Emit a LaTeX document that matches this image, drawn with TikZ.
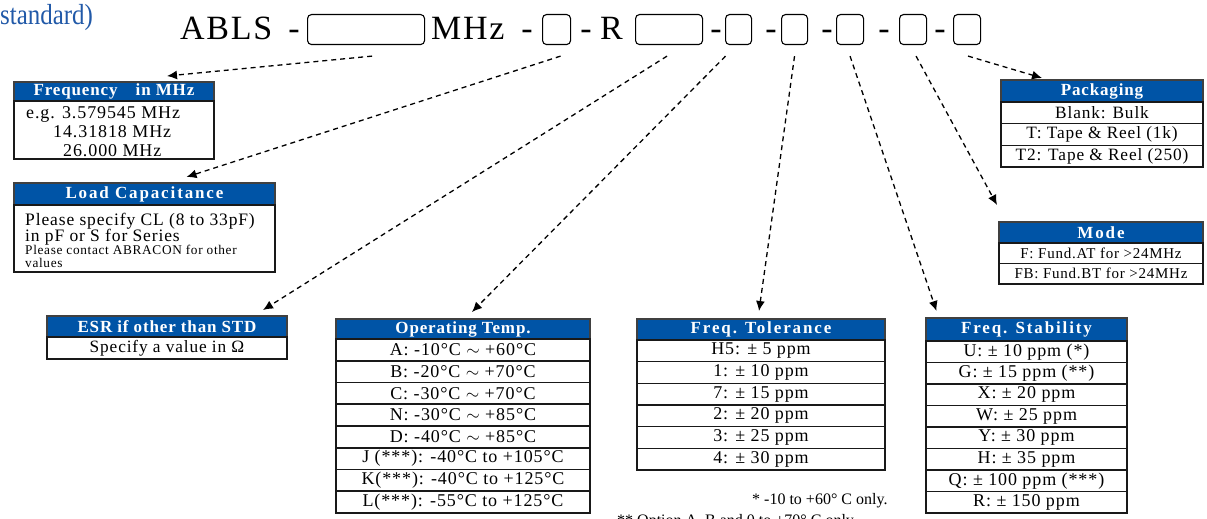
\documentclass[tikz,border=0pt]{standalone}
\usepackage{fontspec}
\setmainfont{Liberation Serif}
\newfontfamily\trackfont[LetterSpace=5]{Liberation Serif}
\newfontfamily\widefont[LetterSpace=11]{Liberation Serif}
\usetikzlibrary{arrows.meta}
\usetikzlibrary{positioning}
\definecolor{hdrblue}{RGB}{0,84,166}
\definecolor{stdblue}{RGB}{33,89,168}

\tikzset{
	slot/.style={draw, rounded corners=4pt, line width=1.1pt, minimum height=30pt, inner sep=0pt, anchor=north west},
	ptxt/.style={font=\trackfont\fontsize{34}{36}\selectfont, inner sep=0pt},
	hdr/.style={draw=black!75, fill=hdrblue, text=white, font=\trackfont\bfseries\fontsize{17}{18}\selectfont, line width=1.4pt, inner sep=0pt, outer sep=0pt, anchor=north},
	hdrwide/.style={hdr, font=\widefont\bfseries\fontsize{17}{18}\selectfont},
	cell/.style={draw=black!90, line width=1.6pt, inner sep=0pt, outer sep=0pt, font=\trackfont\fontsize{18}{19}\selectfont},
	txt/.style={inner sep=0pt, font=\trackfont\fontsize{17.5}{19}\selectfont},
	fnote/.style={inner sep=0pt, font=\fontsize{16}{18}\selectfont},
	conn/.style={-{Latex[length=10pt, width=9pt]}, dash pattern=on 5pt off 4pt, line width=1.3pt},
}

\begin{document}
\begin{tikzpicture}[x=1pt,y=-1pt]
	\useasboundingbox (0,0) rectangle (1207,519);
	% part number line
	\node[font=\fontsize{29}{30}\selectfont, text=stdblue, anchor=base west, inner sep=0pt, xscale=0.86, transform shape] (std) at (0,25) {standard)};
	\node[ptxt, anchor=base west] (abls) at (180,39.5) {ABLS};
	\node[ptxt, anchor=base] (d0) at (294,39.5) {-};
	\node[ptxt, anchor=base west] (mhz) at (431,39.5) {MHz};
	\node[ptxt, anchor=base] (d1) at (527,39.5) {-};
	\node[ptxt, anchor=base] (d2) at (586,39.5) {-};
	\node[ptxt, anchor=base west] (rr) at (600,39.5) {R};
	\node[ptxt, anchor=base] (d3) at (716,39.5) {-};
	\node[ptxt, anchor=base] (d4) at (771,39.5) {-};
	\node[ptxt, anchor=base] (d5) at (827,39.5) {-};
	\node[ptxt, anchor=base] (d6) at (884,39.5) {-};
	\node[ptxt, anchor=base] (d7) at (940,39.5) {-};
	\node[slot, minimum width=117pt] (b0) at (307,14) {};
	\node[slot, minimum width=28pt] (b1) at (542,14) {};
	\node[slot, minimum width=67pt] (b2) at (635,14) {};
	\node[slot, minimum width=26pt] (b3) at (725,14) {};
	\node[slot, minimum width=26pt] (b4) at (781,14) {};
	\node[slot, minimum width=27pt] (b5) at (836,14) {};
	\node[slot, minimum width=27pt] (b6) at (899,14) {};
	\node[slot, minimum width=27pt] (b7) at (953,14) {};

	% frequency
	\node[hdr, minimum width=200pt, minimum height=19pt] (frq0) at (114,82) {Frequency\hspace{13pt} in MHz};
	\node[cell, minimum width=200pt, minimum height=58pt, below=0pt of frq0] (frq1) {};
	\node[txt, anchor=base west, font=\trackfont\fontsize{18}{19}\selectfont] (frqa) at (26,118) {e.g. 3.579545 MHz};
	\node[txt, anchor=base west, font=\trackfont\fontsize{18}{19}\selectfont] (frqb) at (53,137) {14.31818 MHz};
	\node[txt, anchor=base west, font=\trackfont\fontsize{18}{19}\selectfont] (frqc) at (63,156) {26.000 MHz};

	% load capacitance
	\node[hdrwide, minimum width=261pt, minimum height=22pt] (lc0) at (144.5,183) {Load Capacitance};
	\node[cell, minimum width=261pt, minimum height=67pt, below=0pt of lc0] (lc1) {};
	\node[txt, anchor=base west] (lca) at (25,225) {Please specify CL (8 to 33pF)};
	\node[txt, anchor=base west] (lcb) at (25,241) {in pF or S for Series};
	\node[txt, anchor=base west, font=\trackfont\fontsize{13.3}{14}\selectfont] (lcc) at (25,254) {Please contact ABRACON for other};
	\node[txt, anchor=base west, font=\trackfont\fontsize{13.3}{14}\selectfont] (lcd) at (25,267) {values};

	% esr
	\node[hdr, minimum width=240pt, minimum height=21pt] (esr0) at (167,316) {ESR if other than STD};
	\node[cell, minimum width=240pt, minimum height=22pt, below=0pt of esr0, font=\trackfont\fontsize{17.3}{19}\selectfont] (esr1) {Specify a value in Ω};

	% operating temp
	\node[hdr, minimum width=254pt, minimum height=20pt] (ot0) at (463,319) {Operating Temp.};
	\foreach \t [count=\i] in {A: -10°C $\sim$ +60°C, B: -20°C $\sim$ +70°C, C: -30°C $\sim$ +70°C, N: -30°C $\sim$ +85°C, D: -40°C $\sim$ +85°C, J (***): -40°C to +105°C, K(***): -40°C to +125°C, L(***): -55°C to +125°C}{
		\pgfmathtruncatemacro\j{\i-1}
		\node[cell, minimum width=254pt, minimum height=21.75pt, below=0pt of ot\j] (ot\i) {\t};
	}

	% tolerance
	\node[hdrwide, minimum width=248pt, minimum height=21pt] (tol0) at (761,319) {Freq. Tolerance};
	\foreach \t [count=\i] in {H5: ± 5 ppm, 1: ± 10 ppm, 7: ± 15 ppm, 2: ± 20 ppm, 3: ± 25 ppm, 4: ± 30 ppm}{
		\pgfmathtruncatemacro\j{\i-1}
		\node[cell, minimum width=248pt, minimum height=21.67pt, below=0pt of tol\j] (tol\i) {\t};
	}

	% stability
	\node[hdrwide, minimum width=201pt, minimum height=23pt] (stb0) at (1026.5,318) {Freq. Stability};
	\foreach \t [count=\i] in {U: ± 10 ppm (*), G: ± 15 ppm (**), X: ± 20 ppm, W: ± 25 ppm, Y: ± 30 ppm, H: ± 35 ppm, Q: ± 100 ppm (***), R: ± 150 ppm}{
		\pgfmathtruncatemacro\j{\i-1}
		\node[cell, minimum width=201pt, minimum height=21.5pt, below=0pt of stb\j] (stb\i) {\t};
	}

	% packaging
	\node[hdr, minimum width=202pt, minimum height=22pt] (pk0) at (1102,80) {Packaging};
	\foreach \t [count=\i] in {Blank: Bulk, T: Tape \& Reel (1k), T2: Tape \& Reel (250)}{
		\pgfmathtruncatemacro\j{\i-1}
		\node[cell, minimum width=202pt, minimum height=21.67pt, below=0pt of pk\j, font=\trackfont\fontsize{17.3}{19}\selectfont] (pk\i) {\t};
	}

	% mode
	\node[hdrwide, minimum width=204pt, minimum height=21pt] (md0) at (1101,222) {Mode};
	\foreach \t [count=\i] in {F: Fund.AT for >24MHz, FB: Fund.BT for >24MHz}{
		\pgfmathtruncatemacro\j{\i-1}
		\node[cell, minimum width=204pt, minimum height=20.5pt, below=0pt of md\j, font=\trackfont\fontsize{15}{16}\selectfont] (md\i) {\t};
	}

	% notes
	\node[fnote, anchor=base west] (fn1) at (752,504) {* -10 to +60° C only.};
	\node[fnote, anchor=base west] (fn2) at (617,525) {** Option A, B and 0 to +70° C only.};

	% arrows
	\draw[conn] ([xshift=6pt,yshift=-11pt]b0.south) -- ([xshift=53pt,yshift=6pt]frq0.north);
	\draw[conn] ([xshift=4pt,yshift=-11pt]b1.south) -- ([xshift=42pt,yshift=6pt]lc0.north);
	\draw[conn] ([xshift=-2pt,yshift=-11pt]b2.south) -- ([xshift=96pt,yshift=6pt]esr0.north);
	\draw[conn] ([xshift=-13pt,yshift=-11pt]b3.south) -- ([xshift=9pt,yshift=7pt]ot0.north);
	\draw[conn] ([yshift=-11pt]b4.south) -- ([xshift=-2pt,yshift=8pt]tol0.north);
	\draw[conn] ([yshift=-11pt]b5.south) -- ([xshift=-90pt,yshift=7pt]stb0.north);
	\draw[conn] ([xshift=3pt,yshift=-11pt]b6.south) -- ([xshift=-2pt,yshift=17pt]md0.north west);
	\draw[conn] ([xshift=1pt,yshift=-11pt]b7.south) -- ([xshift=-60pt,yshift=2pt]pk0.north);
\end{tikzpicture}
\end{document}
